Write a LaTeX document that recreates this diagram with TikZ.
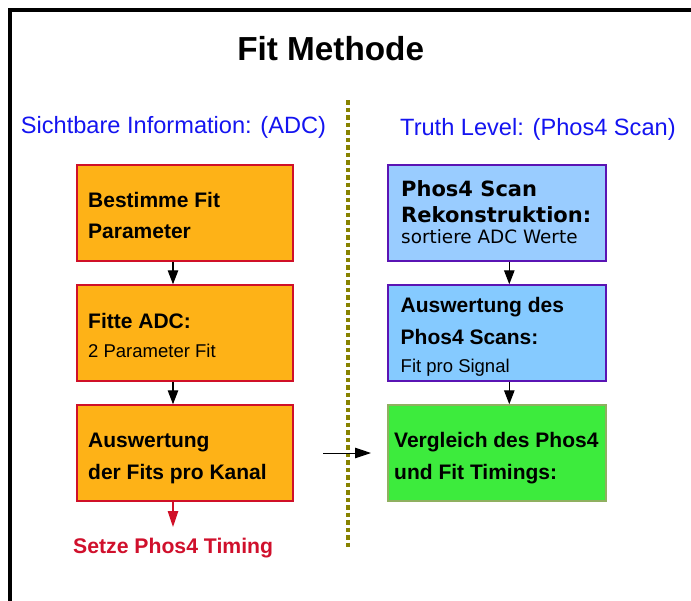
\documentclass[tikz,border=0pt]{standalone}
\usepackage{fontspec}
\setmainfont{Liberation Sans}
\newfontfamily\dejavu{DejaVu Sans}
\usetikzlibrary{arrows.meta}
\definecolor{boxorange}{RGB}{254,178,23}
\definecolor{boxred}{RGB}{208,16,40}
\definecolor{boxblueA}{RGB}{153,204,255}
\definecolor{boxblueB}{RGB}{133,202,255}
\definecolor{boxpurple}{RGB}{90,20,180}
\definecolor{boxgreen}{RGB}{61,235,61}
\definecolor{boxgreenline}{RGB}{143,176,96}
\definecolor{olivedot}{RGB}{135,130,0}
\definecolor{labelblue}{RGB}{20,20,240}
\definecolor{labelred}{RGB}{208,16,44}
\tikzset{
  box/.style={rectangle, draw, line width=1.5pt, minimum width=216pt, minimum height=96pt, inner sep=0pt},
  obox/.style={box, fill=boxorange, draw=boxred},
  bboxA/.style={box, fill=boxblueA, draw=boxpurple, minimum width=218pt},
  bboxB/.style={box, fill=boxblueB, draw=boxpurple, minimum width=218pt},
  gbox/.style={box, fill=boxgreen, draw=boxgreenline, minimum width=218pt},
  txt/.style={anchor=base west, inner sep=0pt},
  boldtxt/.style={txt, font=\fontsize{21pt}{21pt}\selectfont\bfseries},
  smalltxt/.style={txt, font=\fontsize{18.5pt}{18.5pt}\selectfont},
  dvbold/.style={txt, font=\dejavu\fontsize{21pt}{21pt}\selectfont\bfseries},
  dvsmall/.style={txt, font=\dejavu\fontsize{18.4pt}{18.4pt}\selectfont},
  headlbl/.style={txt, text=labelblue, font=\fontsize{23.6pt}{23.6pt}\selectfont},
  flow/.style={line width=1.2pt, -{Triangle[length=14pt,width=10.5pt]}},
}
\begin{document}
\begin{tikzpicture}[x=1pt,y=-1pt]
\useasboundingbox (0,0) rectangle (691,600);
\clip (0,0) rectangle (691,600);
% frame
\draw[line width=4pt] (10,620) -- (10,10) -- (710,10);
% title
\node[anchor=base, inner sep=0pt, font=\fontsize{33.3pt}{33.3pt}\selectfont\bfseries] (title) at (330.7,60.5) {Fit Methode};
% column labels
\node[headlbl] (lhead) at (20.7,133.3) {Sichtbare Information: (ADC)};
\node[headlbl] (rhead) at (400,135) {Truth Level: (Phos4 Scan)};
% divider
\coordinate (dtop) at (348,100);
\coordinate (dbot) at (348,548);
\draw[olivedot, line width=4pt, dash pattern=on 4.5pt off 3pt] (dtop) -- (dbot);
% left boxes
\node[obox] (l1) at (185,213) {};
\node[obox] (l2) at (185,333) {};
\node[obox] (l3) at (185,453) {};
\node[boldtxt] (l1a) at (88,207) {Bestimme Fit};
\node[boldtxt] (l1b) at (88,238) {Parameter};
\node[boldtxt] (l2a) at (88,328) {Fitte ADC:};
\node[smalltxt] (l2b) at (88,357) {2 Parameter Fit};
\node[boldtxt] (l3a) at (88,447) {Auswertung};
\node[boldtxt] (l3b) at (88,479) {der Fits pro Kanal};
% right boxes
\node[bboxA] (r1) at (497,213) {};
\node[bboxB] (r2) at (497,333) {};
\node[gbox] (r3) at (497,453) {};
\node[dvbold] (r1a) at (401,196) {Phos4 Scan};
\node[dvbold] (r1b) at (401,222) {Rekonstruktion:};
\node[dvsmall] (r1c) at (401,243.5) {sortiere ADC Werte};
\node[boldtxt] (r2a) at (400.5,312) {Auswertung des};
\node[boldtxt] (r2b) at (400.5,344) {Phos4 Scans:};
\node[smalltxt] (r2c) at (400.5,372) {Fit pro Signal};
\node[boldtxt] (r3a) at (394,447) {Vergleich des Phos4};
\node[boldtxt] (r3b) at (394,479) {und Fit Timings:};
% result label
\node[txt, text=labelred, font=\fontsize{21.2pt}{21.2pt}\selectfont\bfseries] (res) at (73,553) {Setze Phos4 Timing};
% connectors
\coordinate (lx) at (173,0);
\coordinate (rx) at (509.3,0);
\draw[flow] (l1.south -| lx) -- (l2.north -| lx);
\draw[flow] (l2.south -| lx) -- (l3.north -| lx);
\draw[flow] (r1.south -| rx) -- (r2.north -| rx);
\draw[flow] (r2.south -| rx) -- (r3.north -| rx);
\coordinate (redend) at (173,527);
\draw[flow, boxred, line width=1.2pt, -{Triangle[length=16pt,width=10.5pt]}] (l3.south -| lx) -- (redend);
\coordinate (hstart) at (323,453);
\coordinate (hend) at (371,453);
\draw[line width=1pt, -{Triangle[length=16pt,width=10.5pt]}] (hstart) -- (hend);
\end{tikzpicture}
\end{document}
